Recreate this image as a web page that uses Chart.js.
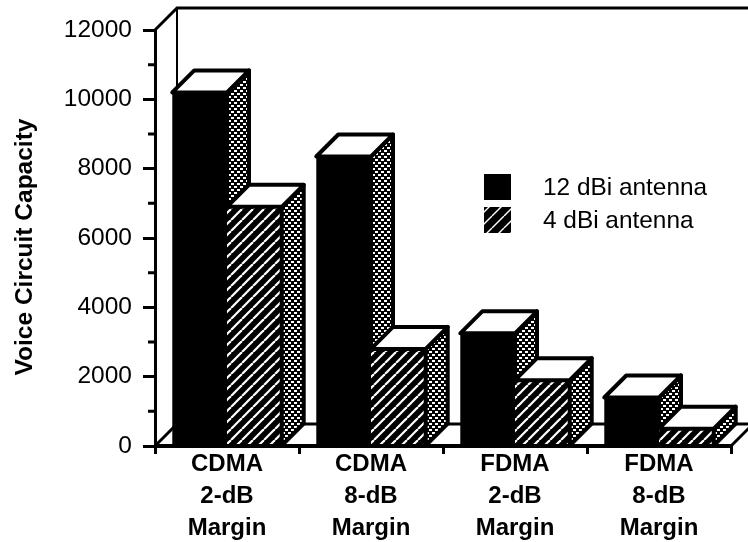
<!DOCTYPE html>
<html>
<head>
<meta charset="utf-8">
<style>
  html, body { margin: 0; padding: 0; background: #fff; }
  canvas { display: block; }
</style>
<script src="https://cdn.jsdelivr.net/npm/chart.js@4"></script>
</head>
<body>
<canvas id="myChart" width="748" height="542"></canvas>
<script>
const categories = [['CDMA', '2-dB', 'Margin'], ['CDMA', '8-dB', 'Margin'], ['FDMA', '2-dB', 'Margin'], ['FDMA', '8-dB', 'Margin']];
const antenna12 = [10200, 8350, 3250, 1400];
const antenna4 = [6900, 2800, 1900, 500];
const seriesNames = ['12 dBi antenna', '4 dBi antenna'];
const axisTitle = 'Voice Circuit Capacity';
const minorTicks = [1000, 3000, 5000, 7000, 9000, 11000];

const depth = 22;
const fontName = '"Liberation Sans", Arial, sans-serif';

// diagonal white stripes on black
function stripes(size, width) {
  const c = document.createElement('canvas');
  c.width = size; c.height = size;
  const g = c.getContext('2d');
  g.fillStyle = '#000';
  g.fillRect(0, 0, size, size);
  g.strokeStyle = '#fff';
  g.lineWidth = width;
  [-size, 0, size].forEach(o => {
    g.beginPath();
    g.moveTo(o, size);
    g.lineTo(o + size, 0);
    g.stroke();
  });
  return g.createPattern(c, 'repeat');
}

// white dots on black, side faces of all bars
function dots() {
  const c = document.createElement('canvas');
  c.width = 6; c.height = 6;
  const g = c.getContext('2d');
  g.fillStyle = '#000';
  g.fillRect(0, 0, 6, 6);
  g.fillStyle = '#fff';
  g.fillRect(0, 0, 3, 2);
  g.fillRect(3, 3, 3, 2);
  return g.createPattern(c, 'repeat');
}

const stripeFill = stripes(11, 2.2);
const swatchFill = stripes(12, 1.4);
const dotFill = dots();

function face(ctx, pts, fill) {
  ctx.beginPath();
  pts.forEach((p, i) => i ? ctx.lineTo(p[0], p[1]) : ctx.moveTo(p[0], p[1]));
  ctx.closePath();
  ctx.fillStyle = fill;
  ctx.fill();
  ctx.strokeStyle = '#000';
  ctx.lineWidth = 4;
  ctx.lineJoin = 'round';
  ctx.stroke();
}

function drawFaces(ctx, meta) {
  meta.data.forEach(bar => {
    const p = bar.getProps(['x', 'y', 'base', 'width'], true);
    const l = p.x - p.width / 2, r = p.x + p.width / 2;
    face(ctx, [[r, p.y], [r + depth, p.y - depth], [r + depth, p.base - depth], [r, p.base]], dotFill);
    face(ctx, [[l, p.y], [l + depth, p.y - depth], [r + depth, p.y - depth], [r, p.y]], '#fff');
  });
}

const box3d = {
  id: 'box3d',
  beforeDatasetsDraw(chart) {
    const ctx = chart.ctx, a = chart.chartArea;
    const right = a.right + depth;
    ctx.save();
    ctx.strokeStyle = '#000';
    ctx.lineWidth = 3;
    // back wall and floor
    ctx.beginPath();
    ctx.moveTo(a.left, a.top);
    ctx.lineTo(a.left + depth, a.top - depth);
    ctx.lineTo(right, a.top - depth);
    ctx.moveTo(a.left, a.bottom);
    ctx.lineTo(a.left + depth, a.bottom - depth);
    ctx.lineTo(right, a.bottom - depth);
    ctx.moveTo(a.right, a.bottom);
    ctx.lineTo(right, a.bottom - depth);
    ctx.stroke();
    ctx.lineWidth = 2;
    ctx.beginPath();
    ctx.moveTo(a.left + depth, a.top - depth);
    ctx.lineTo(a.left + depth, a.bottom - depth);
    ctx.stroke();
    // short ticks between the labelled ones
    const y = chart.scales.y;
    ctx.lineWidth = 3;
    ctx.beginPath();
    minorTicks.forEach(v => {
      ctx.moveTo(a.left - 7, y.getPixelForValue(v));
      ctx.lineTo(a.left, y.getPixelForValue(v));
    });
    ctx.stroke();
    ctx.restore();
  },
  afterDatasetsDraw(chart) {
    // the library paints the second series first, so repaint it over the first one's sides
    const ctx = chart.ctx, a = chart.chartArea;
    ctx.save();
    drawFaces(ctx, chart.getDatasetMeta(0));
    chart.getDatasetMeta(1).data.forEach(bar => bar.draw(ctx));
    drawFaces(ctx, chart.getDatasetMeta(1));
    // front edge of the floor
    ctx.strokeStyle = '#000';
    ctx.lineWidth = 4;
    ctx.beginPath();
    ctx.moveTo(a.left, a.bottom);
    ctx.lineTo(a.right, a.bottom);
    ctx.stroke();
    ctx.restore();
  },
  afterDraw(chart) {
    const ctx = chart.ctx;
    ctx.save();
    // legend swatches and names
    [['#000', 174], [swatchFill, 207]].forEach((s, i) => {
      ctx.fillStyle = s[0];
      ctx.fillRect(484, s[1], 27, 26);
      ctx.fillStyle = '#000';
      ctx.font = '400 24.4px ' + fontName;
      ctx.textBaseline = 'middle';
      ctx.fillText(seriesNames[i], 543, s[1] + 14);
    });
    // axis title sits a little below the middle of the axis
    ctx.translate(25, 247);
    ctx.rotate(-Math.PI / 2);
    ctx.font = 'bold 24.5px ' + fontName;
    ctx.textAlign = 'center';
    ctx.textBaseline = 'middle';
    ctx.fillText(axisTitle, 0, 0);
    ctx.restore();
  }
};

new Chart(document.getElementById('myChart'), {
  type: 'bar',
  data: {
    labels: categories,
    datasets: [
      { label: seriesNames[0], data: antenna12, backgroundColor: '#000' },
      { label: seriesNames[1], data: antenna4, backgroundColor: stripeFill }
    ]
  },
  options: {
    responsive: false,
    animation: false,
    categoryPercentage: 0.76,
    barPercentage: 1,
    layout: { padding: { top: 30, right: 17, left: 0, bottom: 0 } },
    plugins: {
      legend: { display: false },
      tooltip: { enabled: false }
    },
    scales: {
      x: {
        afterFit(s) { s.height = 96; },
        grid: { drawOnChartArea: false, tickLength: 8, tickWidth: 3, tickColor: '#000' },
        border: { display: false },
        ticks: {
          color: '#000',
          maxRotation: 0,
          padding: -6,
          font: { family: fontName, size: 24, weight: 'bold', lineHeight: 1.333 }
        }
      },
      y: {
        min: 0,
        max: 12000,
        afterFit(s) { s.width = 155; },
        grid: { drawOnChartArea: false, tickLength: 12, tickWidth: 3, tickColor: '#000' },
        border: { color: '#000', width: 3 },
        ticks: {
          stepSize: 2000,
          color: '#000',
          padding: 11,
          callback: v => String(v),
          font: { family: fontName, size: 24.5 }
        }
      }
    }
  },
  plugins: [box3d]
});
</script>
</body>
</html>
